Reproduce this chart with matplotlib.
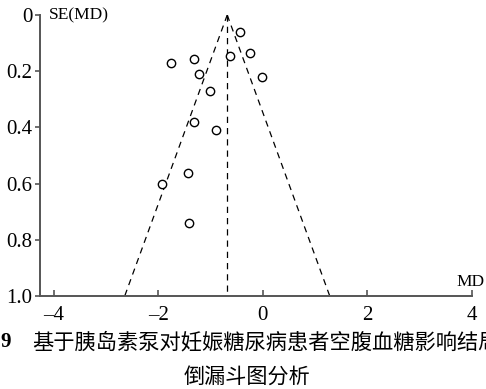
import numpy as np
import matplotlib
matplotlib.use("Agg")
import matplotlib.pyplot as plt
from matplotlib.ticker import FixedLocator, FixedFormatter

# study effects (MD) and their standard errors
md = [-0.44, -0.63, -0.25, -0.02, -1.76, -1.32, -1.22, -1.01,
      -1.32, -0.89, -1.43, -1.92, -1.42]
se = [0.06, 0.145, 0.136, 0.222, 0.171, 0.155, 0.21, 0.27,
      0.382, 0.408, 0.563, 0.601, 0.739]
pooled = -0.68
se_max = 1.0

xticks = [-4, -2, 0, 2, 4]
xticklabels = ["–4", "–2", "0", "2", "4"]
yticks = [0, 0.2, 0.4, 0.6, 0.8, 1.0]
yticklabels = ["0", "0.2", "0.4", "0.6", "0.8", "1.0"]

serif = "Liberation Serif"
cjk = ["Noto Sans CJK SC", "DejaVu Sans"]
axcol = "#555555"

fig = plt.figure(figsize=(4.86, 3.89), dpi=100)
ax = fig.add_axes([40 / 486, 1 - 296 / 389, 432 / 486, 281 / 389])

# funnel lines (95% pseudo confidence limits)
s = np.array([0, se_max])
ax.plot(pooled - 1.96 * s, s, color="black", lw=0.9, ls=(0, (5, 4)))
ax.plot(pooled + 1.96 * s, s, color="black", lw=0.9, ls=(0, (5, 4)))
ax.plot([pooled, pooled], [0, se_max], color="black", lw=0.9, ls=(0, (5, 4)))

ax.plot(md, se, "o", ms=6, mfc="white", mec="black", mew=1.0, ls="none")

ax.set_xlim(-4.26, 4.0)
ax.set_ylim(1.0, 0)

for side in ["top", "right"]:
    ax.spines[side].set_visible(False)
for side in ["left", "bottom"]:
    ax.spines[side].set_color(axcol)
    ax.spines[side].set_linewidth(1.4)

ax.xaxis.set_major_locator(FixedLocator(xticks))
ax.xaxis.set_major_formatter(FixedFormatter(xticklabels))
ax.yaxis.set_major_locator(FixedLocator(yticks))
ax.yaxis.set_major_formatter(FixedFormatter(yticklabels))
ax.tick_params(axis="x", direction="in", length=4, width=1.2, color=axcol, pad=7)
ax.tick_params(axis="y", direction="out", length=3.5, width=1.2, color=axcol, pad=2)
for lab in ax.get_xticklabels() + ax.get_yticklabels():
    lab.set_fontfamily(serif)
    lab.set_fontsize(15)

ax.text(0.02, 1.0, "SE(MD)", transform=ax.transAxes, ha="left", va="center",
        fontfamily=serif, fontsize=12.5)
fig.text(485 / 486, 1 - 282 / 389, "MD", ha="right", va="center",
         fontfamily=serif, fontsize=12.5)

# caption
fig.text(0.0, 1 - 342 / 389, "9", ha="left", va="center",
         fontfamily=serif, fontweight="bold", fontsize=15)
fig.text(32 / 486, 1 - 342 / 389, "基于胰岛素泵对妊娠糖尿病患者空腹血糖影响结局",
         ha="left", va="center", fontfamily=cjk, fontsize=15.3)
fig.text(247 / 486, 1 - 377 / 389, "倒漏斗图分析", ha="center", va="center",
         fontfamily=cjk, fontsize=15.2)

fig.savefig("out.png", dpi=100)
